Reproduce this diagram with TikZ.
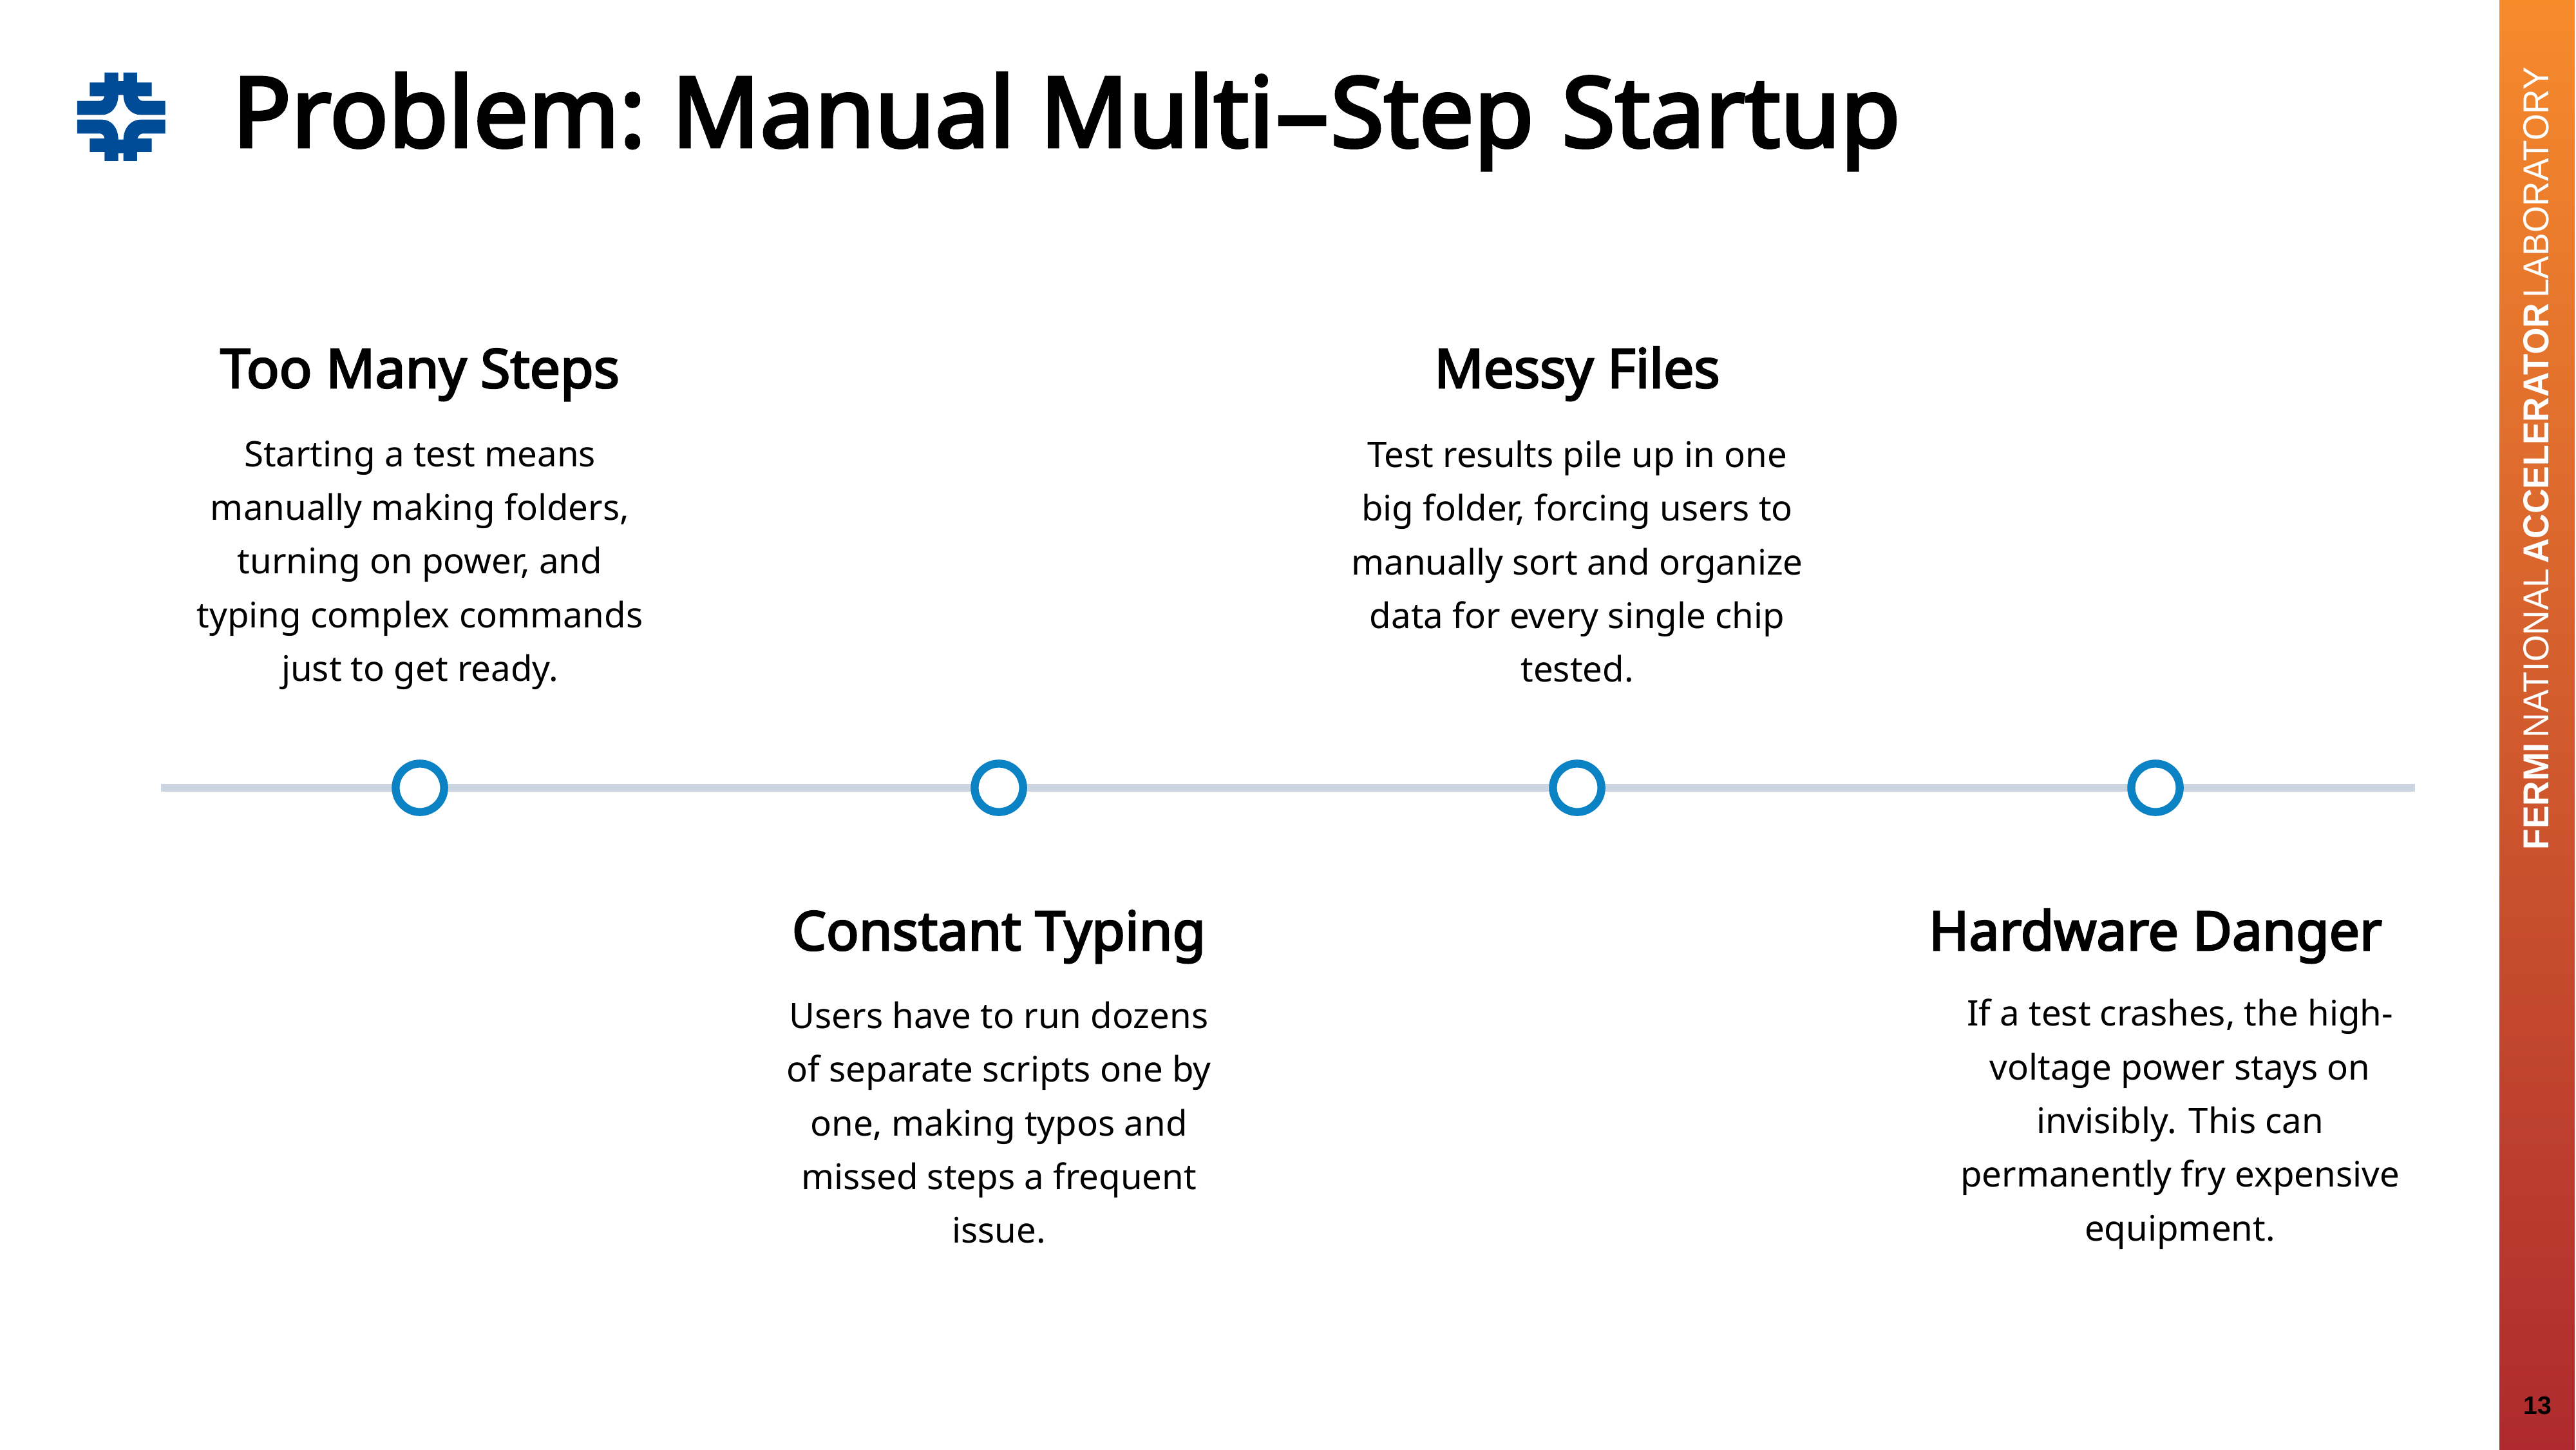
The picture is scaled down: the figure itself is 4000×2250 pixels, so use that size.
\documentclass[tikz,border=0pt]{standalone}
\usepackage{fontspec}
\setmainfont{Noto Sans}
\newfontfamily\sidefont{Liberation Sans}
\newfontfamily\boldface{Noto Sans}[FakeBold=3.2]
\definecolor{barline}{HTML}{CBD5E1}
\definecolor{ringblue}{HTML}{0A82C4}
\definecolor{logoblue}{HTML}{004C97}
\definecolor{bartop}{HTML}{F68B2C}
\definecolor{barbot}{HTML}{AE2A2E}
\tikzset{
  px/.style={x=0.25pt,y=-0.25pt},
  ring/.style={circle,draw=ringblue,line width=3.1pt,fill=white,minimum size=18.8pt,inner sep=0pt},
  heading/.style={font=\boldface\fontsize{21}{25}\selectfont,anchor=base,inner sep=0pt},
  bodytext/.style={font=\fontsize{13.65}{20.85}\selectfont,align=center,anchor=base,inner sep=0pt},
}
\begin{document}
\begin{tikzpicture}[px]
\useasboundingbox (0,0) rectangle (4000,2250);
\fill[white] (0,0) rectangle (4000,2250);
\shade[top color=bartop,bottom color=barbot] (3881,0) rectangle (3998,2250);
% logo
\begin{scope}[shift={(80,60)},x=0.08333pt,y=-0.08333pt]
\fill[logoblue] (247,158) -- (311,158) -- (311,198) -- (335,198) -- (335,158) -- (399,158) -- (399,204) -- (467,204) -- (467,268) -- (400,268) .. controls (405,282) and (415,290) .. (425,290) -- (530,290) -- (530,355) -- (415,355) .. controls (370,355) and (335,315) .. (335,262) -- (311,262) .. controls (311,315) and (280,355) .. (235,355) -- (120,355) -- (120,290) -- (225,290) .. controls (235,290) and (245,282) .. (247,268) -- (178,268) -- (178,204) -- (247,204) -- cycle;
\fill[logoblue] (247,570) -- (311,570) -- (311,534) -- (335,534) -- (335,570) -- (399,570) -- (399,528) -- (467,528) -- (467,465) -- (400,465) .. controls (405,450) and (415,442) .. (425,442) -- (530,442) -- (530,377) -- (415,377) .. controls (370,377) and (335,417) .. (335,470) -- (311,470) .. controls (311,417) and (280,377) .. (235,377) -- (120,377) -- (120,442) -- (225,442) .. controls (235,442) and (245,450) .. (247,465) -- (178,465) -- (178,528) -- (247,528) -- cycle;
\end{scope}
\node[anchor=base west,inner sep=0pt,font=\boldface\fontsize{37.8}{46}\selectfont] (title) at (360,228) {Problem:\hspace{-2.9pt} Manual Multi\scalebox{1.8}[1]{-}Step\hspace{1pt} Startup};
% timeline
\coordinate (tlstart) at (250,1223);
\coordinate (tlend) at (3750,1223);
\draw[barline,line width=3pt] (tlstart) -- (tlend);
\node[ring] (r1) at (652,1223) {};
\node[ring] (r2) at (1551,1223) {};
\node[ring] (r3) at (2449,1223) {};
\node[ring] (r4) at (3347,1223) {};
% texts
\node[heading] (h1) at (652,602) {Too Many Steps};
\node[bodytext,anchor=north] (b1) at (652,683) {Starting a test means\\manually making folders,\\turning on power, and\\typing complex commands\\just to get ready.};
\node[heading] (h3) at (2449,602) {Messy Files};
\node[bodytext,anchor=north] (b3) at (2449,683) {Test results pile up in one\\big folder, forcing users to\\manually sort and organize\\data for every single chip\\tested.};
\node[heading] (h2) at (1551,1475) {Constant Typing};
\node[bodytext,anchor=north] (b2) at (1551,1554) {Users have to run dozens\\of separate scripts one by\\one, making typos and\\missed steps a frequent\\issue.};
\node[heading] (h4) at (3347,1475) {Hardware Danger};
\node[bodytext,anchor=north] (b4) at (3385,1550) {If a test crashes, the high-\\voltage power stays on\\invisibly. This can\\permanently fry expensive\\equipment.};
% side
\node[rotate=90,anchor=west,inner sep=0pt,text=white] (side) at (3938,1320) {\resizebox{303.75pt}{9.75pt}{\sidefont\textbf{FERMI}\hspace{0.15em}NATIONAL\hspace{0.15em}\textbf{ACCELERATOR}\hspace{0.15em}LABORATORY}};
\node[inner sep=0pt,font=\sidefont\bfseries\fontsize{9.8}{12}\selectfont,text=black] (pg) at (3940,2182) {13};
\end{tikzpicture}
\end{document}
